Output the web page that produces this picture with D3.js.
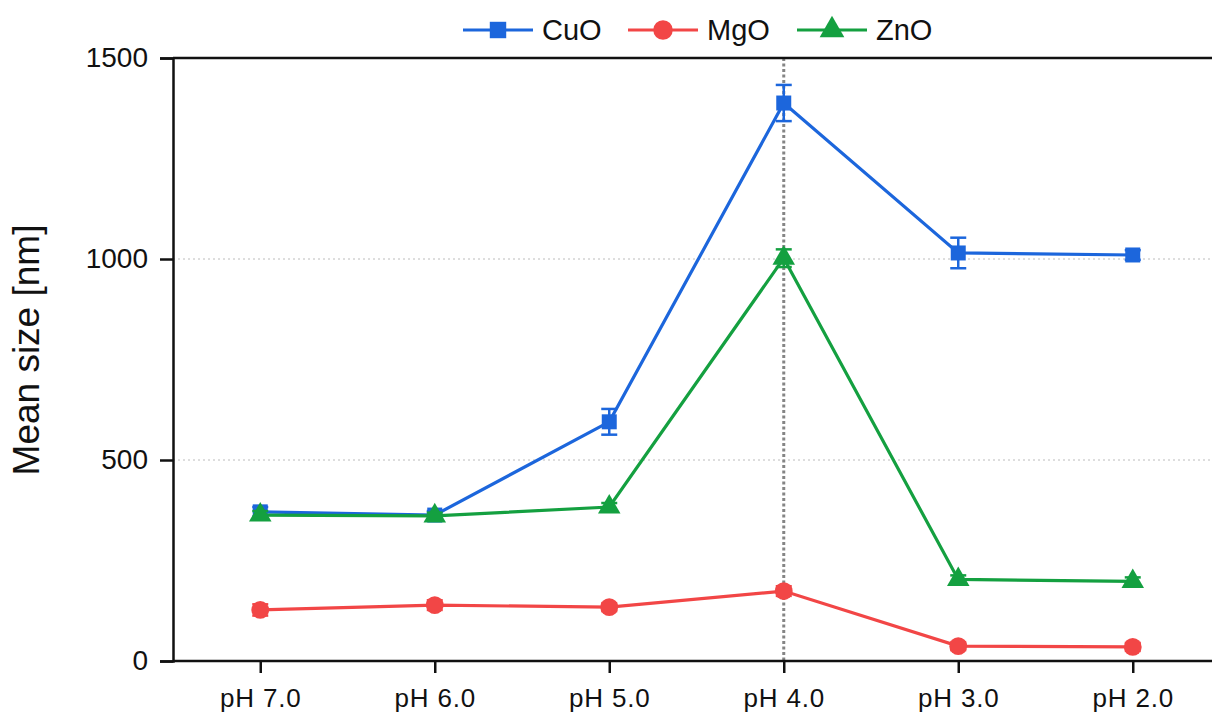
<!DOCTYPE html>
<html>
<head>
<meta charset="utf-8">
<script src="https://cdn.jsdelivr.net/npm/d3@7"></script>
<style>
  body { margin: 0; background: #fff; }
  svg { display: block; font-family: "Liberation Sans", Arial, sans-serif; }
</style>
</head>
<body>
<div id="chart"></div>
<script>
// data
var categories = ["pH 7.0", "pH 6.0", "pH 5.0", "pH 4.0", "pH 3.0", "pH 2.0"]
var cuo = [371, 363, 595, 1388, 1015, 1010]
var cuoErr = [12, 10, 32, 45, 38, 12]
var mgo = [127, 139, 134, 174, 37, 35]
var mgoErr = [14, 12, 10, 12, 10, 10]
var zno = [363, 361, 383, 1002, 203, 198]
var znoErr = [10, 8, 10, 22, 10, 10]
var yTicks = [0, 500, 1000, 1500]
var gridValues = [500, 1000]
var markedCategory = "pH 4.0"

var series = [
    {name: "CuO", values: cuo, err: cuoErr, color: "#1c66dc", symbol: d3.symbolSquare, size: 225},
    {name: "MgO", values: mgo, err: mgoErr, color: "#f24646", symbol: d3.symbolCircle, size: 250},
    {name: "ZnO", values: zno, err: znoErr, color: "#14a040", symbol: d3.symbolTriangle, size: 220}
]

var width = 1212, height = 715
var margin = {left: 173, top: 58, right: -8, bottom: 54}

var svg = d3.select("#chart").append("svg")
    .attr("width", width)
    .attr("height", height)

var x = d3.scalePoint()
    .domain(categories)
    .range([margin.left, width - margin.right])
    .padding(0.5)

var y = d3.scaleLinear()
    .domain([0, 1500])
    .range([height - margin.bottom, margin.top])

// dotted grid lines
svg.append("g").selectAll("line")
    .data(gridValues)
    .enter().append("line")
    .attr("x1", margin.left)
    .attr("x2", width)
    .attr("y1", function(d) { return y(d) })
    .attr("y2", function(d) { return y(d) })
    .attr("stroke", "#bcbcbc")
    .attr("stroke-width", 1)
    .attr("stroke-dasharray", "2,3")

// vertical marker at pH 4.0
svg.append("line")
    .attr("x1", x(markedCategory))
    .attr("x2", x(markedCategory))
    .attr("y1", y(1500))
    .attr("y2", y(0))
    .attr("stroke", "#858585")
    .attr("stroke-width", 3)
    .attr("stroke-dasharray", "3,2.5")

// axes
var yAxis = svg.append("g")
    .attr("transform", "translate(" + margin.left + ",0)")
    .call(d3.axisLeft(y).tickValues(yTicks).tickFormat(d3.format("d")).tickSize(13).tickPadding(12))
yAxis.select(".domain").attr("stroke", "#111").attr("stroke-width", 2.5)
yAxis.selectAll(".tick line").attr("stroke", "#111").attr("stroke-width", 2.5)
yAxis.selectAll("text")
    .style("font-size", "28px").attr("fill", "#111")
    .style("font-family", "Liberation Sans, Arial, sans-serif")

var xAxis = svg.append("g")
    .attr("transform", "translate(0," + y(0) + ")")
    .call(d3.axisBottom(x).tickSize(12).tickPadding(16).tickSizeOuter(0))
xAxis.select(".domain").attr("stroke", "#111").attr("stroke-width", 2.5)
    .attr("d", "M" + margin.left + ",0H" + width)
xAxis.selectAll(".tick line").attr("stroke", "#111").attr("stroke-width", 2.5)
xAxis.selectAll("text")
    .style("font-size", "26px").style("letter-spacing", "0.8px").attr("fill", "#111")
    .style("font-family", "Liberation Sans, Arial, sans-serif")

// top frame line
svg.append("line")
    .attr("x1", margin.left)
    .attr("x2", width)
    .attr("y1", y(1500))
    .attr("y2", y(1500))
    .attr("stroke", "#111")
    .attr("stroke-width", 2.5)

// y label
svg.append("text")
    .attr("transform", "translate(39,350)rotate(-90)")
    .attr("text-anchor", "middle")
    .style("font-size", "37px")
    .attr("fill", "#111")
    .text("Mean size [nm]")

var line = d3.line()
    .x(function(d, i) { return x(categories[i]) })
    .y(function(d) { return y(d) })

var g = svg.selectAll(".series")
    .data(series)
    .enter().append("g")
    .attr("class", "series")

g.append("path")
    .attr("d", function(s) { return line(s.values) })
    .attr("fill", "none")
    .attr("stroke", function(s) { return s.color })
    .attr("stroke-width", 3.2)

// error bars and markers
g.each(function(s) {
    var el = d3.select(this)
    var bars = el.selectAll(".err")
        .data(s.values.map(function(v, i) { return {v: v, e: s.err[i], c: categories[i]} }))
        .enter().append("g")
        .attr("class", "err")
        .attr("stroke", s.color)
        .attr("stroke-width", 2.5)
    bars.append("line")
        .attr("x1", function(d) { return x(d.c) })
        .attr("x2", function(d) { return x(d.c) })
        .attr("y1", function(d) { return y(d.v - d.e) })
        .attr("y2", function(d) { return y(d.v + d.e) })
    bars.append("line")
        .attr("x1", function(d) { return x(d.c) - 8 })
        .attr("x2", function(d) { return x(d.c) + 8 })
        .attr("y1", function(d) { return y(d.v + d.e) })
        .attr("y2", function(d) { return y(d.v + d.e) })
    bars.append("line")
        .attr("x1", function(d) { return x(d.c) - 8 })
        .attr("x2", function(d) { return x(d.c) + 8 })
        .attr("y1", function(d) { return y(d.v - d.e) })
        .attr("y2", function(d) { return y(d.v - d.e) })

    el.selectAll(".pt")
        .data(s.values)
        .enter().append("path")
        .attr("class", "pt")
        .attr("d", d3.symbol().type(s.symbol).size(s.size))
        .attr("transform", function(d, i) { return "translate(" + x(categories[i]) + "," + y(d) + ")" })
        .attr("fill", s.color)
})

// legend
var legendX = [463, 628, 797]
var legend = svg.selectAll(".legend")
    .data(series)
    .enter().append("g")
    .attr("class", "legend")
    .attr("transform", function(s, i) { return "translate(" + legendX[i] + ",30)" })

legend.append("line")
    .attr("x1", 0).attr("x2", 70)
    .attr("stroke", function(s) { return s.color })
    .attr("stroke-width", 3.2)
legend.append("path")
    .attr("d", function(s) { return d3.symbol().type(s.symbol).size(s.size * 1.2)() })
    .attr("transform", "translate(35,0)")
    .attr("fill", function(s) { return s.color })
legend.append("text")
    .attr("x", 79)
    .attr("dy", "0.36em")
    .style("font-size", "29px")
    .attr("fill", "#111")
    .text(function(s) { return s.name })
</script>
</body>
</html>
